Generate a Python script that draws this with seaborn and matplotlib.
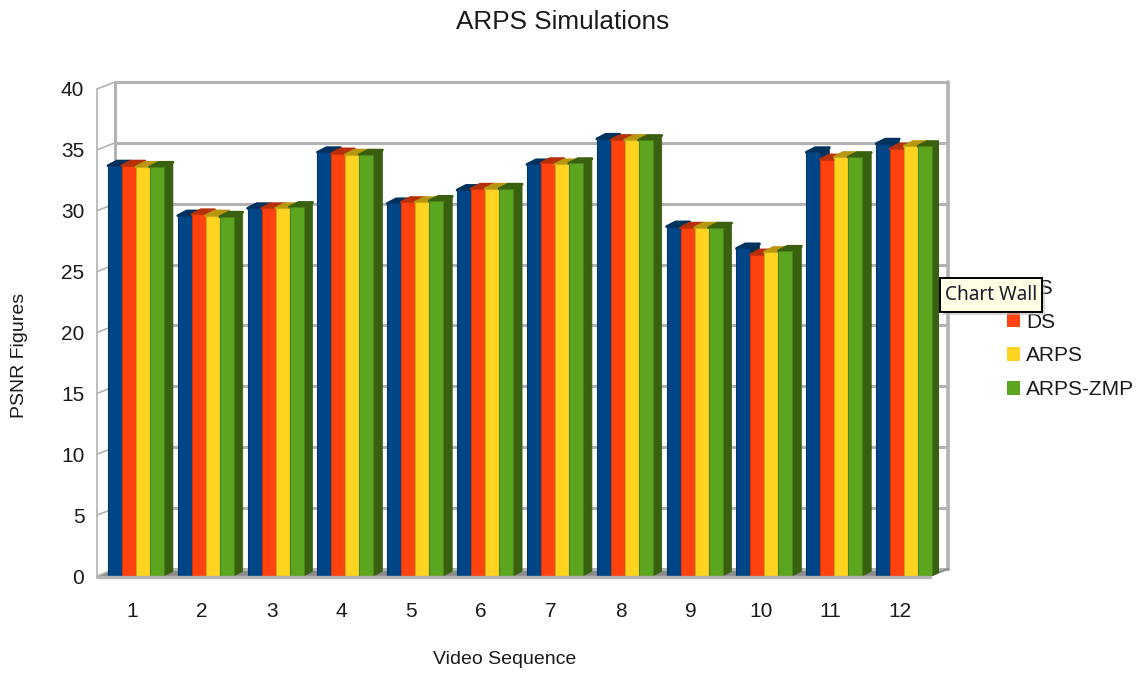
import pandas as pd
import matplotlib.pyplot as plt
from matplotlib.colors import to_rgb
from matplotlib.patches import Polygon, Rectangle
import seaborn as sns

sequences = ["1", "2", "3", "4", "5", "6", "7", "8", "9", "10", "11", "12"]
fs = [33.7, 29.6, 30.2, 34.8, 30.6, 31.7, 33.8, 35.9, 28.7, 26.9, 34.8, 35.5]
ds = [33.7, 29.7, 30.2, 34.7, 30.7, 31.8, 33.9, 35.8, 28.6, 26.4, 34.2, 35.1]
arps = [33.6, 29.6, 30.2, 34.6, 30.7, 31.8, 33.8, 35.8, 28.6, 26.6, 34.4, 35.3]
arps_zmp = [33.6, 29.5, 30.3, 34.6, 30.8, 31.8, 33.9, 35.8, 28.6, 26.7, 34.4, 35.3]
y_ticks = [0, 5, 10, 15, 20, 25, 30, 35, 40]

W, H = 1139, 673
front = ["#004586", "#ff420e", "#ffd320", "#5ca51f"]
side = ["#00325f", "#b5300b", "#b8960f", "#38600f"]
# bar and wall depth, in data units
bar_dx, bar_dy = 0.13, 0.38
wall_dx, wall_dy = 0.258, 0.58
# floor edges relative to the category axis, the bars sit a little behind the front edge
x0, x1 = -0.557, 11.37
shift = 0.055

df = pd.DataFrame({"FS": fs, "DS": ds, "ARPS": arps, "ARPS-ZMP": arps_zmp}, index=sequences)
df = df.rename_axis("seq").reset_index().melt("seq", var_name="series", value_name="psnr")

sns.set_theme(style="white")
plt.rcParams["font.family"] = ["Liberation Sans", "DejaVu Sans"]

fig = plt.figure(figsize=(W / 100, H / 100), dpi=100)
ax = fig.add_axes([101 / W, 1 - 576 / H, 838 / W, 487 / H])
ax.patch.set_alpha(0)

sns.barplot(data=df, x="seq", y="psnr", hue="series", palette=front, width=0.8,
            saturation=1, gap=0, linewidth=0, ax=ax)
ax.set_xlim(-0.5, 11.5)
ax.set_ylim(0, 40)

# floor and walls
ax.add_patch(Polygon([(x0, 0), (x0 + wall_dx, wall_dy), (x1 + wall_dx, wall_dy), (x1, 0)],
                     fc="#8c8c8c", ec="none", zorder=0.5, clip_on=False))
for t in y_ticks:
    ax.plot([x0 + wall_dx, x1 + wall_dx], [t + wall_dy, t + wall_dy], color="#b3b3b3",
            lw=2.2, zorder=0.6, clip_on=False)
    ax.plot([x0, x0 + wall_dx], [t, t + wall_dy], color="#b3b3b3", lw=1.2, zorder=0.6, clip_on=False)
ax.plot([x0, x0], [0, 40], color="#b3b3b3", lw=1.2, zorder=0.6, clip_on=False)
ax.plot([x0 + wall_dx, x0 + wall_dx], [wall_dy, 40 + wall_dy], color="#b3b3b3", lw=2.2, zorder=0.6, clip_on=False)
ax.plot([x1 + wall_dx, x1 + wall_dx], [wall_dy, 40 + wall_dy], color="#b3b3b3", lw=2.6, zorder=0.6, clip_on=False)
ax.plot([x1, x1 + wall_dx], [0, wall_dy], color="#8c8c8c", lw=1.5, zorder=0.6, clip_on=False)
ax.plot([x0, x1], [-0.06, -0.06], color="#b3b3b3", lw=2.4, zorder=20, clip_on=False)

# side and top faces of each bar
for i, cont in enumerate(ax.containers):
    edge = tuple(c * 0.8 for c in to_rgb(front[i]))
    for b in cont:
        bx, bw, bh = b.get_x(), b.get_width(), b.get_height()
        b.set_zorder(2 + i * 2 + 1)
        b.set_edgecolor(edge)
        b.set_linewidth(0.8)
        ax.add_patch(Polygon([(bx + bw, 0), (bx + bw + bar_dx, bar_dy), (bx + bw + bar_dx, bh + bar_dy),
                              (bx + bw, bh)], fc=side[i], ec=side[i], lw=0.5, zorder=2 + i * 2))
        ax.add_patch(Polygon([(bx, bh), (bx + bar_dx, bh + bar_dy), (bx + bw + bar_dx, bh + bar_dy),
                              (bx + bw, bh)], fc=side[i], ec=side[i], lw=2, joinstyle="round",
                             zorder=2 + i * 2))

sns.despine(ax=ax, left=True, bottom=True)
ax.set_xticks([i - shift for i in range(len(sequences))])
ax.set_xticklabels(sequences, fontsize=15, color="#1a1a1a")
ax.set_yticks(y_ticks)
ax.set_yticklabels([str(t) for t in y_ticks], fontsize=15, color="#1a1a1a")
ax.tick_params(axis="x", length=0, pad=19)
ax.tick_params(axis="y", length=0, pad=12)
ax.set_xlabel("")
ax.set_ylabel("")

fig.text(563 / W, 1 - 22 / H, "ARPS Simulations", fontsize=18.8, color="#1a1a1a", ha="center", va="center")
fig.text(505 / W, 1 - 659 / H, "Video Sequence", fontsize=14, color="#1a1a1a", ha="center", va="center")
fig.text(20 / W, 1 - 355 / H, "PSNR Figures", fontsize=14, color="#1a1a1a", rotation=90, ha="center", va="center")

handles, labels = ax.get_legend_handles_labels()
ax.legend(handles, labels, loc="upper left", bbox_to_anchor=(988 / W, 1 - 260 / H),
          bbox_transform=fig.transFigure, frameon=False, fontsize=15, labelcolor="#1a1a1a",
          handlelength=0.63, handleheight=0.63, handletextpad=0.29, labelspacing=0.71)

# tooltip left over from the screenshot
fig.add_artist(Rectangle((943 / W, 1 - 315 / H), 102 / W, 34 / H, transform=fig.transFigure,
                         fc="#bbbbbb", ec="none", alpha=0.6, zorder=5))
fig.add_artist(Rectangle((940 / W, 1 - 312 / H), 102 / W, 34 / H, transform=fig.transFigure,
                         fc="#ffffe6", ec="black", lw=1.4, zorder=6))
fig.text(991 / W, 1 - 295 / H, "Chart Wall", fontsize=13.7, family="Noto Sans", color="#1a1a2a",
         ha="center", va="center", zorder=7)

fig.savefig("out.png", dpi=100)
